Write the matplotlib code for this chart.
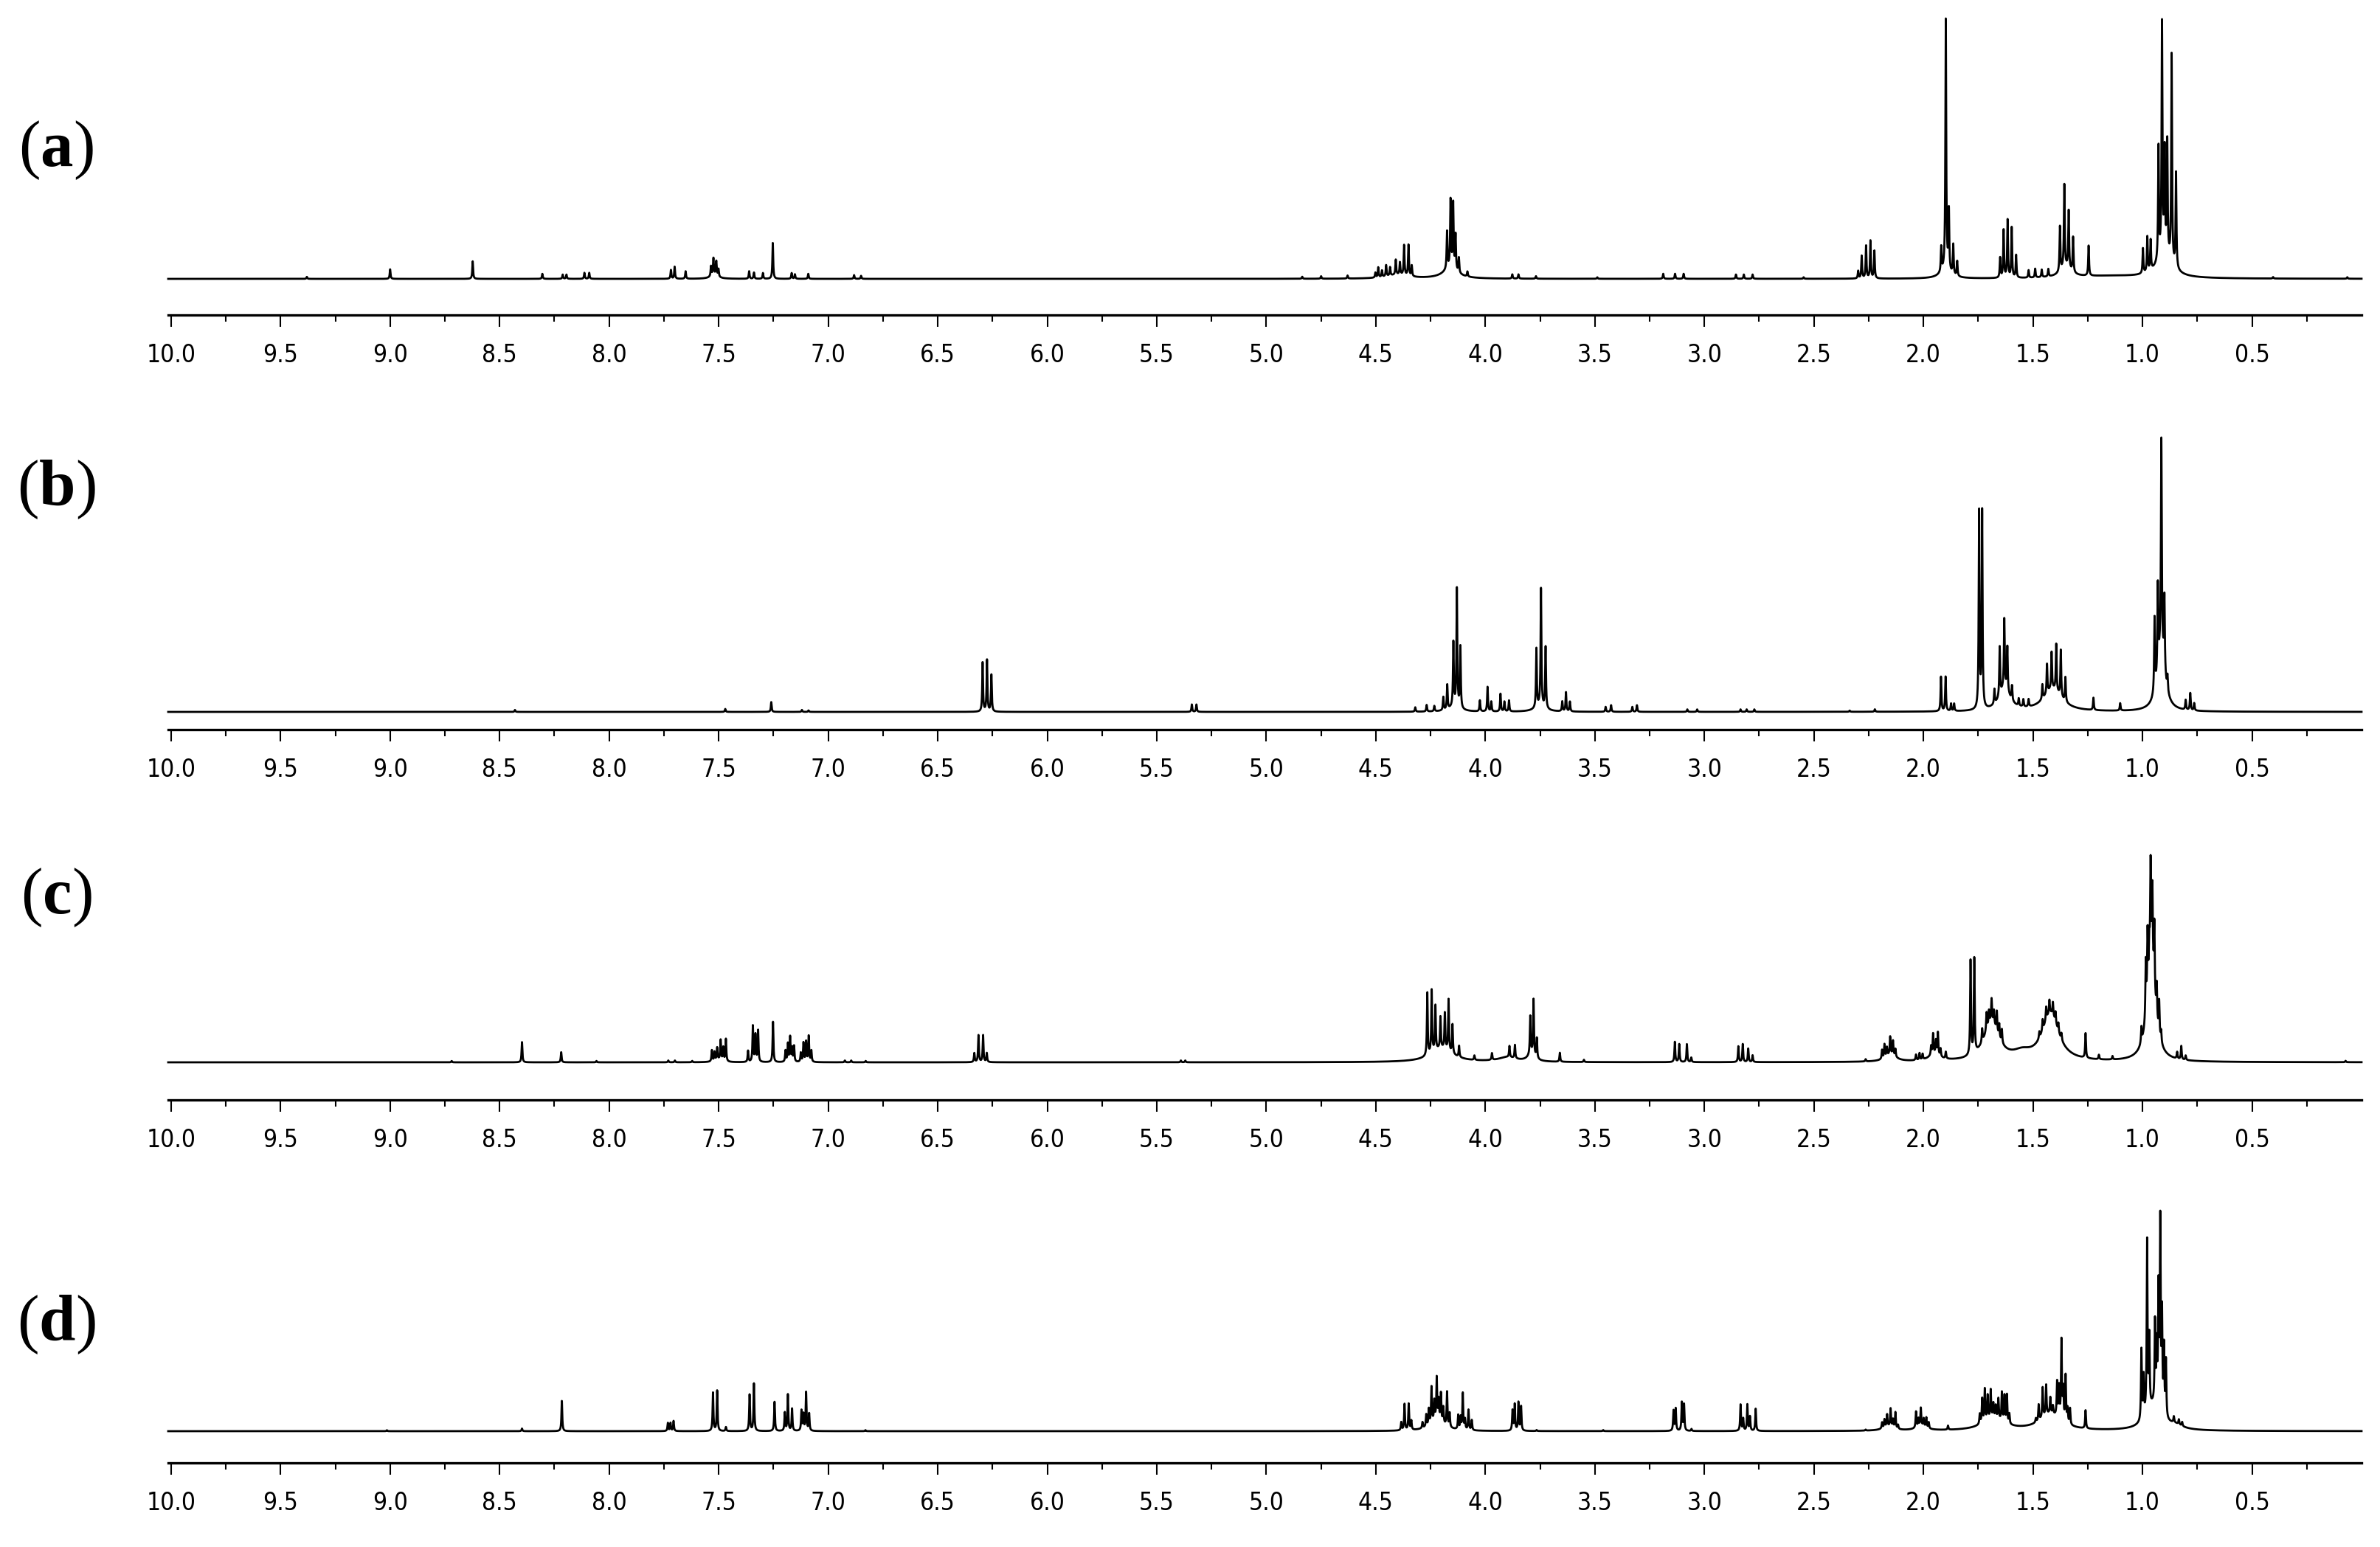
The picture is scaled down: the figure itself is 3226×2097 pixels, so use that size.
import numpy as np
import matplotlib
matplotlib.use("Agg")
import matplotlib.pyplot as plt

# peak lists: (shift in ppm, relative height)
a_peaks = [(9.38, 0.008), (9.00, 0.038), (8.623, 0.07), (8.305, 0.02), (8.212, 0.017), (8.195, 0.017),
           (8.113, 0.024), (8.091, 0.024), (7.718, 0.035), (7.701, 0.048), (7.651, 0.03),
           (7.535, 0.04), (7.524, 0.067), (7.511, 0.057), (7.501, 0.03), (7.361, 0.03), (7.339, 0.025),
           (7.298, 0.023), (7.253, 0.143), (7.167, 0.023), (7.152, 0.018), (7.091, 0.02), (6.882, 0.015),
           (6.85, 0.012), (4.836, 0.008), (4.75, 0.01), (4.629, 0.012),
           (4.502, 0.02), (4.489, 0.04), (4.472, 0.026), (4.453, 0.045), (4.435, 0.034), (4.409, 0.06),
           (4.39, 0.049), (4.371, 0.12), (4.351, 0.124), (4.336, 0.043),
           (4.175, 0.15), (4.159, 0.27), (4.147, 0.26), (4.136, 0.14), (4.121, 0.06), (4.082, 0.02),
           (3.877, 0.017), (3.849, 0.017), (3.769, 0.01), (3.489, 0.006), (3.188, 0.02), (3.134, 0.02),
           (3.095, 0.02), (2.856, 0.017), (2.82, 0.017), (2.78, 0.017), (2.547, 0.006),
           (2.298, 0.03), (2.282, 0.09), (2.262, 0.13), (2.242, 0.15), (2.224, 0.11),
           (1.919, 0.1), (1.898, 1.0), (1.884, 0.24), (1.864, 0.12), (1.846, 0.06),
           (1.650, 0.08), (1.634, 0.19), (1.616, 0.23), (1.597, 0.2), (1.577, 0.09),
           (1.52, 0.03), (1.49, 0.035), (1.46, 0.03), (1.43, 0.03),
           (1.377, 0.18), (1.357, 0.33), (1.337, 0.23), (1.317, 0.14), (1.246, 0.12),
           (0.998, 0.1), (0.978, 0.14), (0.963, 0.12), (0.927, 0.45), (0.911, 0.92), (0.899, 0.4),
           (0.887, 0.45), (0.867, 0.83), (0.847, 0.38), (0.404, 0.006), (0.065, 0.006)]
a_broad = [(7.52, 0.015, 0.02), (4.40, 0.015, 0.06), (4.16, 0.04, 0.04), (1.90, 0.03, 0.03),
           (1.35, 0.04, 0.03), (1.15, 0.01, 0.2), (0.90, 0.09, 0.04)]

b_peaks = [(8.43, 0.008), (7.47, 0.012), (7.26, 0.04), (7.12, 0.008), (7.09, 0.006),
           (6.295, 0.2), (6.275, 0.21), (6.255, 0.15), (5.340, 0.03), (5.319, 0.03),
           (4.320, 0.018), (4.268, 0.027), (4.233, 0.022), (4.192, 0.054), (4.174, 0.1),
           (4.146, 0.26), (4.130, 0.48), (4.114, 0.25), (4.025, 0.045), (3.990, 0.1), (3.973, 0.04),
           (3.931, 0.072), (3.913, 0.04), (3.892, 0.045), (3.767, 0.24), (3.746, 0.48), (3.725, 0.25),
           (3.649, 0.04), (3.632, 0.078), (3.614, 0.04), (3.451, 0.02), (3.426, 0.027), (3.329, 0.02),
           (3.308, 0.027), (3.078, 0.01), (3.033, 0.01), (2.835, 0.01), (2.807, 0.01), (2.772, 0.01),
           (2.337, 0.005), (2.222, 0.01), (1.920, 0.14), (1.899, 0.14), (1.874, 0.03), (1.86, 0.03),
           (1.746, 0.8), (1.732, 0.8), (1.676, 0.06), (1.652, 0.2), (1.631, 0.28), (1.617, 0.18),
           (1.596, 0.06), (1.565, 0.03), (1.544, 0.03), (1.52, 0.03), (1.457, 0.06), (1.436, 0.12),
           (1.415, 0.15), (1.394, 0.19), (1.373, 0.19), (1.352, 0.1), (1.224, 0.05), (1.102, 0.03),
           (0.945, 0.3), (0.930, 0.35), (0.914, 0.85), (0.900, 0.3), (0.886, 0.06),
           (0.803, 0.04), (0.782, 0.07), (0.764, 0.03)]
b_broad = [(4.14, 0.02, 0.03), (3.75, 0.02, 0.03), (1.63, 0.09, 0.03), (1.41, 0.09, 0.05),
           (0.915, 0.25, 0.02)]

c_peaks = [(8.719, 0.006), (8.398, 0.09), (8.219, 0.045), (8.058, 0.006), (7.73, 0.008), (7.70, 0.008),
           (7.621, 0.006), (7.531, 0.05), (7.519, 0.04), (7.507, 0.055), (7.491, 0.09), (7.479, 0.06),
           (7.467, 0.1), (7.366, 0.05), (7.344, 0.16), (7.332, 0.12), (7.32, 0.14), (7.252, 0.18),
           (7.195, 0.05), (7.184, 0.08), (7.174, 0.11), (7.165, 0.06), (7.156, 0.07), (7.125, 0.04),
           (7.113, 0.085), (7.101, 0.09), (7.089, 0.115), (7.077, 0.05), (6.924, 0.008), (6.895, 0.008),
           (6.829, 0.006), (6.333, 0.04), (6.314, 0.12), (6.293, 0.12), (6.276, 0.04), (5.39, 0.008),
           (5.37, 0.008), (4.265, 0.28), (4.245, 0.28), (4.228, 0.2), (4.205, 0.14), (4.185, 0.16),
           (4.168, 0.23), (4.150, 0.13), (4.12, 0.05), (4.05, 0.02), (3.97, 0.03), (3.89, 0.05),
           (3.865, 0.06), (3.795, 0.17), (3.780, 0.25), (3.765, 0.09), (3.66, 0.04), (3.55, 0.01),
           (3.135, 0.09), (3.115, 0.08), (3.08, 0.08), (3.06, 0.02), (2.845, 0.07), (2.825, 0.08),
           (2.80, 0.06), (2.78, 0.03), (2.264, 0.01), (2.189, 0.04), (2.178, 0.06), (2.167, 0.04),
           (2.152, 0.08), (2.139, 0.065), (2.128, 0.035), (2.034, 0.025), (2.018, 0.03), (2.004, 0.025),
           (1.965, 0.04), (1.956, 0.09), (1.943, 0.06), (1.934, 0.1), (1.922, 0.035), (1.898, 0.03),
           (1.785, 0.42), (1.768, 0.42), (1.732, 0.06), (1.712, 0.08), (1.701, 0.06), (1.689, 0.1),
           (1.678, 0.06), (1.665, 0.09), (1.654, 0.06), (1.642, 0.06), (1.471, 0.03), (1.456, 0.05),
           (1.44, 0.06), (1.425, 0.06), (1.409, 0.06), (1.397, 0.05), (1.384, 0.04), (1.37, 0.03),
           (1.260, 0.11), (1.199, 0.02), (1.137, 0.015), (1.005, 0.07), (0.985, 0.25), (0.977, 0.3),
           (0.969, 0.15), (0.963, 0.45), (0.955, 0.35), (0.946, 0.3), (0.935, 0.15), (0.924, 0.15),
           (0.915, 0.05), (0.842, 0.03), (0.823, 0.06), (0.803, 0.02), (0.073, 0.006)]
c_broad = [(7.5, 0.01, 0.02), (4.2, 0.06, 0.06), (3.9, 0.02, 0.05), (3.79, 0.03, 0.02),
           (2.15, 0.03, 0.03), (1.95, 0.03, 0.03), (1.69, 0.17, 0.04), (1.55, 0.03, 0.05),
           (1.42, 0.21, 0.045), (0.96, 0.42, 0.022)]

d_peaks = [(9.015, 0.005), (8.398, 0.013), (8.216, 0.15), (7.732, 0.04), (7.72, 0.04), (7.706, 0.05),
           (7.526, 0.19), (7.507, 0.2), (7.467, 0.02), (7.359, 0.18), (7.339, 0.235), (7.245, 0.145),
           (7.198, 0.09), (7.184, 0.18), (7.165, 0.11), (7.122, 0.1), (7.113, 0.08), (7.101, 0.19),
           (7.087, 0.085), (6.83, 0.005), (4.384, 0.04), (4.369, 0.13), (4.35, 0.13), (4.338, 0.045),
           (4.287, 0.03), (4.27, 0.06), (4.258, 0.08), (4.246, 0.18), (4.233, 0.1), (4.222, 0.21),
           (4.213, 0.1), (4.203, 0.14), (4.192, 0.08), (4.175, 0.17), (4.163, 0.07), (4.124, 0.07),
           (4.113, 0.06), (4.103, 0.18), (4.093, 0.05), (4.077, 0.1), (4.062, 0.05), (3.876, 0.1),
           (3.866, 0.13), (3.849, 0.14), (3.837, 0.12), (3.766, 0.005), (3.462, 0.005), (3.141, 0.1),
           (3.131, 0.11), (3.103, 0.14), (3.093, 0.13), (3.059, 0.01), (2.835, 0.13), (2.823, 0.06),
           (2.804, 0.13), (2.792, 0.07), (2.766, 0.11), (2.264, 0.005), (2.189, 0.03), (2.178, 0.04),
           (2.166, 0.06), (2.150, 0.09), (2.139, 0.04), (2.128, 0.08), (2.116, 0.02), (2.034, 0.08),
           (2.023, 0.04), (2.012, 0.09), (1.999, 0.04), (1.987, 0.05), (1.976, 0.03), (1.888, 0.02),
           (1.743, 0.05), (1.732, 0.12), (1.72, 0.16), (1.707, 0.12), (1.693, 0.14), (1.681, 0.07),
           (1.670, 0.06), (1.658, 0.1), (1.642, 0.14), (1.630, 0.13), (1.619, 0.14), (1.608, 0.05),
           (1.487, 0.02), (1.474, 0.08), (1.456, 0.15), (1.44, 0.15), (1.421, 0.08), (1.409, 0.04),
           (1.390, 0.17), (1.381, 0.15), (1.370, 0.39), (1.362, 0.15), (1.351, 0.23), (1.342, 0.07),
           (1.331, 0.08), (1.26, 0.09), (1.005, 0.35), (0.995, 0.2), (0.979, 0.85), (0.969, 0.35),
           (0.943, 0.4), (0.935, 0.28), (0.927, 0.57), (0.919, 0.92), (0.911, 0.47), (0.902, 0.33),
           (0.893, 0.28), (0.857, 0.03), (0.834, 0.025), (0.819, 0.02)]
d_broad = [(4.22, 0.05, 0.04), (2.16, 0.02, 0.03), (2.01, 0.02, 0.03), (1.68, 0.06, 0.06),
           (1.42, 0.08, 0.06), (0.95, 0.12, 0.04), (0.85, 0.02, 0.04)]

panel_names = ["a", "b", "c", "d"]
peak_sets = [a_peaks, b_peaks, c_peaks, d_peaks]
broad_sets = [a_broad, b_broad, c_broad, d_broad]

major_ticks = np.round(np.arange(10.0, 0.45, -0.5), 2)
minor_ticks = np.round(np.arange(9.75, 0.2, -0.5), 2)

# layout in pixels of the 3226 x 2097 picture: (axis line, baseline, top of tallest peak)
W, H = 3226, 2097
panel_px = [(427, 378, 25), (989, 965, 593), (1491, 1440, 1159), (1983, 1940, 1641)]
label_y_px = [204, 664, 1217, 1796]
x_left_px, x_right_px = 228, 3201
xlim = (10.013, 0.0)

plt.rcParams["mathtext.fontset"] = "custom"
plt.rcParams["mathtext.rm"] = "Liberation Serif"
plt.rcParams["mathtext.bf"] = "Liberation Serif:bold"

ppm = np.linspace(xlim[0], xlim[1], 60000)
line_hw = 0.0022


def spectrum(peaks, broad):
    y = np.zeros_like(ppm)
    for s, h in peaks:
        y += h * line_hw**2 / ((ppm - s)**2 + line_hw**2)
    for s, h, w in broad:
        y += h * w**2 / ((ppm - s)**2 + w**2)
    return y / y.max()


fig = plt.figure(figsize=(W / 100, H / 100), dpi=100)

for name, peaks, broad, (axis_y, base_y, top_y), lab_y in zip(
        panel_names, peak_sets, broad_sets, panel_px, label_y_px):
    ax = fig.add_axes([x_left_px / W, 1 - axis_y / H,
                       (x_right_px - x_left_px) / W, (axis_y - top_y) / H])
    y = spectrum(peaks, broad)
    ax.plot(ppm, y, color="black", lw=2.0, clip_on=False)
    ax.set_xlim(*xlim)
    ax.set_ylim(-(axis_y - base_y) / (base_y - top_y), 1.0)
    for side in ["top", "left", "right"]:
        ax.spines[side].set_visible(False)
    ax.spines["bottom"].set_linewidth(2.4)
    ax.set_yticks([])
    ax.set_xticks(major_ticks)
    ax.set_xticks(minor_ticks, minor=True)
    ax.set_xticklabels([f"{t:.1f}" for t in major_ticks])
    ax.tick_params(axis="x", which="major", length=11.5, width=1.5, pad=16,
                   labelsize=24, direction="out")
    ax.tick_params(axis="x", which="minor", length=6.5, width=1.5, direction="out")
    for lbl in ax.get_xticklabels():
        lbl.set_fontfamily("DejaVu Sans")
        lbl.set_fontstretch("condensed")
    fig.text(76 / W, 1 - lab_y / H, r"($\mathbf{%s}$)" % name, ha="center", va="center",
             fontsize=64, fontfamily="Liberation Serif")

fig.savefig("out.png", dpi=100)
